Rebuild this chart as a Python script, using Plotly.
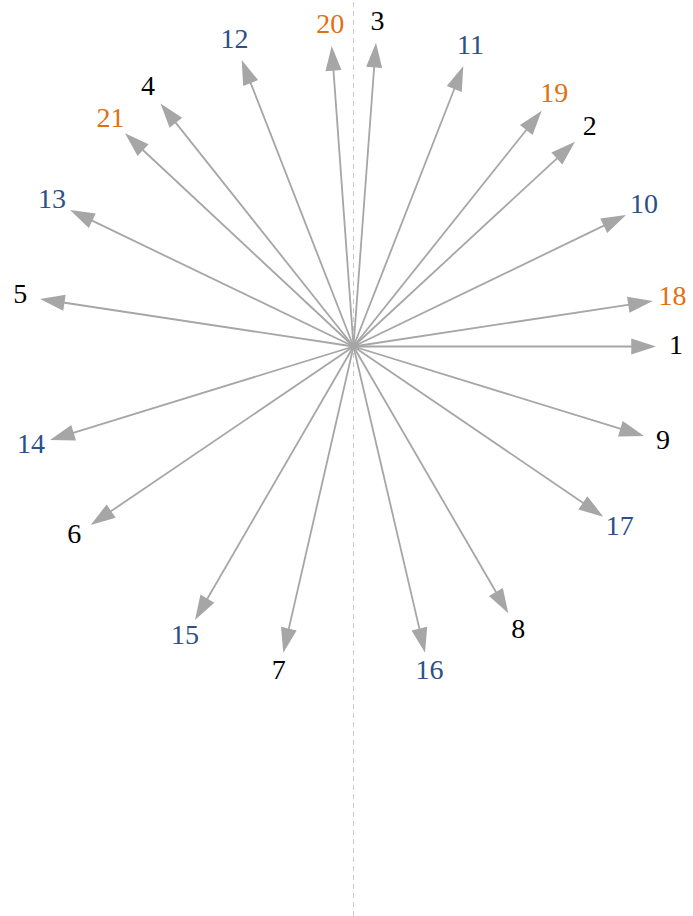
import math
import plotly.graph_objects as go

# Arrow end points (origin at the hub)
labels = [str(i) for i in range(1, 22)]
x_end = [3.025, 2.215, 0.225, -1.930, -3.135, -2.628, -0.702, 1.548, 2.905,
         2.725, 1.098, -1.118, -2.835, -3.035, -1.585, 0.715, 2.498,
         2.992, 1.882, -0.218, -2.285]
y_end = [0.000, 2.048, 3.038, 2.430, 0.475, -1.785, -3.062, -2.668, -0.895,
         1.315, 2.805, 2.865, 1.365, -0.935, -2.735, -3.062, -1.702,
         0.455, 2.358, 3.005, 2.132]
# how many labels fall in each colour group (1-9, 10-17, 18-21)
group_sizes = [9, 8, 4]

arrow_color = "#a6a6a6"
group_colors = ["#000000", "#2b5088", "#e0700f"]
label_colors = [c for c, n in zip(group_colors, group_sizes) for _ in range(n)]

fig = go.Figure()

# one trace per arrow so the arrow marker takes its angle from the hub
for xe, ye in zip(x_end, y_end):
    fig.add_trace(go.Scatter(
        x=[0, xe], y=[0, ye],
        mode="lines+markers",
        line=dict(color=arrow_color, width=1.8),
        marker=dict(symbol="arrow", angleref="previous", size=26,
                    color=arrow_color, line=dict(width=0)),
        hoverinfo="skip",
        showlegend=False,
    ))

# labels sit a little beyond each arrow tip
pad = 0.2
label_x, label_y = [], []
for xe, ye in zip(x_end, y_end):
    r = math.hypot(xe, ye)
    label_x.append(xe + pad * xe / r)
    label_y.append(ye + pad * ye / r)

fig.add_trace(go.Scatter(
    x=label_x, y=label_y,
    mode="text",
    text=labels,
    textposition="middle center",
    textfont=dict(family="Liberation Serif, Times New Roman, serif",
                  size=28, color=label_colors),
    hoverinfo="skip",
    showlegend=False,
))

# dashed vertical line through the hub
fig.add_shape(type="line", x0=0, x1=0, xref="x", y0=0, y1=1, yref="paper",
              line=dict(color="#c8c8c8", width=1, dash="5px,4px"), layer="below")

fig.update_layout(
    width=693, height=916,
    margin=dict(l=0, r=0, t=0, b=0),
    paper_bgcolor="white", plot_bgcolor="white",
    xaxis=dict(range=[-3.535, 3.395], visible=False, fixedrange=True),
    yaxis=dict(range=[-5.695, 3.465], visible=False, fixedrange=True),
)

fig.write_html("out.html", config={"displayModeBar": False},
               post_script="document.body.style.margin='0';")
